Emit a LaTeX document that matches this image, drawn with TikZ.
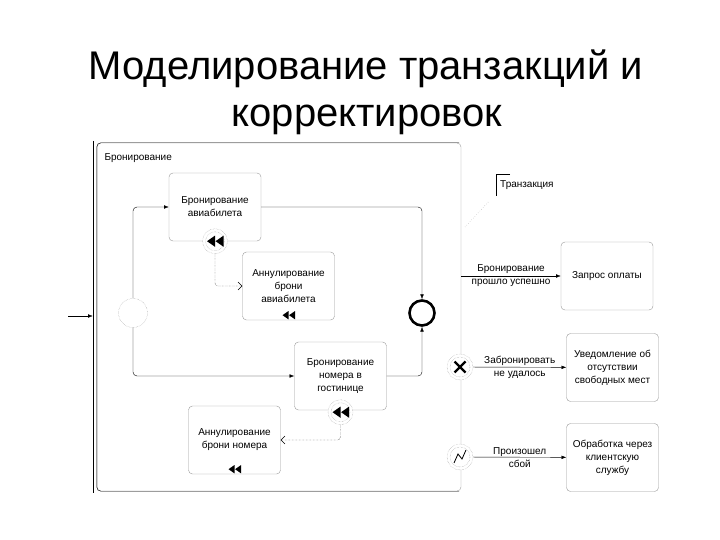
\documentclass[tikz,border=0pt]{standalone}
\usepackage{fontspec}
\setmainfont{Liberation Sans}
\usetikzlibrary{arrows.meta,positioning}
\definecolor{linegray}{HTML}{9A9A9A}
\newcommand{\rewindmark}[2]{\fill[shift={(#1)}] (-#2,0) -- (0,-0.7*#2) -- (0,0.7*#2) -- cycle
  (0.6,0) -- (#2+0.6,-0.7*#2) -- (#2+0.6,0.7*#2) -- cycle;}
\tikzset{
  taskbox/.style={draw=linegray,rounded corners=4pt,align=center,minimum width=92pt,
    minimum height=68pt,fill=white,inner sep=2pt,font=\fontsize{10}{13}\selectfont},
  flowlbl/.style={align=center,inner sep=1pt,font=\fontsize{10}{13}\selectfont},
  evt/.style={circle,draw=linegray,densely dotted,minimum size=26pt,inner sep=0pt,fill=white},
  comparrow/.style={densely dotted,-{Straight Barb[length=4pt,width=8pt]},rounded corners=3pt},
}

\begin{document}
\begin{tikzpicture}[x=1pt,y=-1pt,>=Latex]
        \useasboundingbox (0,0) rectangle (720,540);
        \node[anchor=base,font=\fontsize{40}{44}\selectfont] (title1) at (366,80) {Моделирование транзакций и};
        \node[anchor=base,font=\fontsize{40}{44}\selectfont] (title2) at (367,127) {корректировок};

        % transaction
        \node[draw=linegray,rounded corners=4pt,minimum width=364pt,minimum height=348pt,inner sep=0pt] (tx) at (279,317) {};
        \draw[rounded corners=4pt] ([xshift=-2pt]tx.north east) -- (tx.north west) -- (tx.south west) -- ([xshift=-2pt]tx.south east);
        \coordinate (txleft) at ([xshift=-4pt]tx.west);
        \draw ([yshift=2pt]txleft |- tx.north) -- ([yshift=-2pt]txleft |- tx.south);
        \node[anchor=west,font=\fontsize{10}{12}\selectfont] (txlbl) at (101,158) {Бронирование};

        \node[evt,minimum size=29pt] (start) at (133,313) {};
        \node[circle,draw,line width=2.6pt,minimum size=25pt] (end) at (422,313) {};
        \node[taskbox] (b1) at (215,207) {Бронирование\\авиабилета};
        \node[taskbox] (b2) at (288.5,286) {Аннулирование\\брони\\авиабилета};
        \node[taskbox] (b3) at (340.5,376) {Бронирование\\номера в\\гостинице};
        \node[taskbox] (b4) at (234.5,440) {Аннулирование\\брони номера};

        % compensation markers
        \node[evt,minimum size=25pt] (cm1) at (b1.south) {};
        \draw[linegray,densely dotted] (cm1) circle (9.5pt);
        \rewindmark{cm1}{8}
        \node[evt,minimum size=25pt] (cm2) at ([yshift=-2pt]b3.south) {};
        \draw[linegray,densely dotted] (cm2) circle (9.5pt);
        \rewindmark{cm2}{8}
        \coordinate (m2) at ([yshift=5pt]b2.south);
        \rewindmark{m2}{6}
        \coordinate (m4) at ([yshift=5pt]b4.south);
        \rewindmark{m4}{6}

        \coordinate (in) at (68,316);
        \draw[->] (in) -- (txleft |- in);
        \draw[->,rounded corners=4pt] (start.north) |- (b1.west);
        \draw[->,rounded corners=4pt] (start.south) |- (b3.west);
        \draw[->,rounded corners=4pt] (b1.east) -| (end.north);
        \draw[->,rounded corners=4pt] (b3.east) -| (end.south);
        \draw[comparrow] (cm1.south) |- (b2.west);
        \draw[comparrow] (cm2.south) |- (b4.east);

        % boundary events
        \node[evt] (cancel) at (460,367) {};
        \draw[linegray,densely dotted] (cancel) circle (10pt);
        \draw[line width=2.2pt,shift={(cancel)}] (-5.5,-5.5) -- (5.5,5.5) (-5.5,5.5) -- (5.5,-5.5);
        \node[evt] (err) at (460,457) {};
        \draw[linegray,densely dotted] (err) circle (10pt);
        \draw[thick,line join=miter,shift={(err)}] (-6,6) -- (-2,-3) -- (2,2) -- (6,-7);

        \node[taskbox] (q1) at (607,276) {Запрос оплаты};
        \node[taskbox] (q2) at (612.5,367.5) {Уведомление об\\отсутствии\\свободных мест};
        \node[taskbox] (q3) at (612.5,457.5) {Обработка через\\клиентскую\\службу};
        \coordinate (okout) at (tx.east |- q1);
        \draw[->] (okout) -- node[flowlbl] {Бронирование\\прошло успешно} (q1);
        \draw[->] (cancel) -- node[flowlbl] {Забронировать\\не удалось} (q2);
        \draw[->] (err) -- node[flowlbl] {Произошел\\сбой} (q3);

        % annotation
        \node[anchor=west,font=\fontsize{10}{12}\selectfont,minimum height=22pt,inner xsep=4pt] (ann) at (496,185) {Транзакция};
        \draw ([xshift=14pt]ann.north west) -- (ann.north west) -- (ann.south west);
        \coordinate (annfoot) at (465,227);
        \draw[linegray,dotted] (annfoot) -- ([xshift=-7pt,yshift=-5pt]ann.south west);
      \end{tikzpicture}
\end{document}
